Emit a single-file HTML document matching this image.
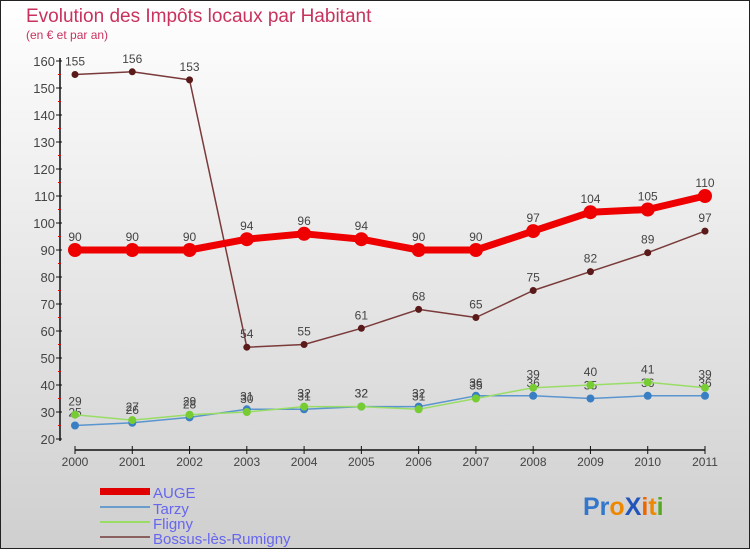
<!DOCTYPE html>
<html><head><meta charset="utf-8"><style>
html,body{margin:0;padding:0;}
body{width:750px;height:550px;overflow:hidden;font-family:"Liberation Sans",sans-serif;}
</style></head><body>
<svg id="chart" width="750" height="550" xmlns="http://www.w3.org/2000/svg" font-family="Liberation Sans, sans-serif">
<defs><linearGradient id="bg" x1="0" y1="0" x2="0" y2="1"><stop offset="0" stop-color="#ffffff"/><stop offset="1" stop-color="#cfcfcf"/></linearGradient></defs>
<rect x="0.5" y="0.5" width="749" height="548" fill="url(#bg)" stroke="#222" stroke-width="1"/>
<text x="26" y="22" font-size="19" fill="#c8325e">Evolution des Impôts locaux par Habitant</text>
<text x="26" y="39" font-size="12" fill="#c8325e">(en € et par an)</text>
<g id="axes"></g>
<g id="series"></g>
<g id="legend">
<rect x="100" y="488" width="50" height="7" fill="#e00000"/>
<text x="153" y="498" font-size="15" fill="#6666ee">AUGE</text>
<rect x="100" y="506" width="50" height="2" fill="#6a9ccc"/>
<text x="153" y="514" font-size="15" fill="#6666ee">Tarzy</text>
<rect x="100" y="521" width="50" height="2" fill="#99dd66"/>
<text x="153" y="529" font-size="15" fill="#6666ee">Fligny</text>
<rect x="100" y="536" width="50" height="2" fill="#8b6060"/>
<text x="153" y="544" font-size="15" fill="#6666ee">Bossus-lès-Rumigny</text>
</g>
<text x="583" y="515" font-size="25" font-weight="bold"><tspan fill="#3377cc">Pr</tspan><tspan fill="#ee8800">o</tspan><tspan fill="#2255bb">X</tspan><tspan fill="#ee6600">i</tspan><tspan fill="#ee8800">t</tspan><tspan fill="#55aa22">i</tspan></text>
</svg>
<script>
const years=[2000,2001,2002,2003,2004,2005,2006,2007,2008,2009,2010,2011];
const yTicks=[20,30,40,50,60,70,80,90,100,110,120,130,140,150,160];
const auge=[90,90,90,94,96,94,90,90,97,104,105,110];
const tarzy=[25,26,28,31,31,32,32,36,36,35,36,36];
const fligny=[29,27,29,30,32,32,31,35,39,40,41,39];
const bossus=[155,156,153,54,55,61,68,65,75,82,89,97];
const NS="http://www.w3.org/2000/svg";
const x=i=>75+i*(630/11);
const y=v=>439-(v-20)*(378/140);
function mk(t,a,p){const e=document.createElementNS(NS,t);for(const k in a)e.setAttribute(k,a[k]);p.appendChild(e);return e;}
const ax=document.getElementById('axes');
let l=mk('line',{x1:60,y1:58,x2:60,y2:441,stroke:'#111','stroke-width':1.5},ax);


l=mk('line',{x1:75,y1:450,x2:705,y2:450,stroke:'#111','stroke-width':1.5},ax);


yTicks.forEach((v,i)=>{
 const t=mk('line',{x1:56,y1:y(v),x2:62,y2:y(v),stroke:'#111'},ax);
 
 
 if(i<yTicks.length-1){const m=mk('line',{x1:58,y1:y(v+5),x2:61,y2:y(v+5),stroke:'#e00'},ax);
 
 }
 const tx=mk('text',{x:55,y:y(v)+5,'font-size':13,fill:'#444','text-anchor':'end'},ax);
 tx.textContent=v;
 
 
});
years.forEach((yr,i)=>{
 const t=mk('line',{x1:x(i),y1:446,x2:x(i),y2:454,stroke:'#111'},ax);
 
 
 const tx=mk('text',{x:x(i),y:466,'font-size':12,fill:'#444','text-anchor':'middle'},ax);
 tx.textContent=yr;
 
 
});
const sg=document.getElementById('series');
function series(name,data,color,w,r,dot,lblColor){
 const g=mk('g',{},sg);
 
 
 const p=mk('polyline',{points:data.map((v,i)=>x(i)+','+y(v)).join(' '),fill:'none',stroke:color,'stroke-width':w,'stroke-linejoin':'round'},g);
 
 
 data.forEach((v,i)=>{
  const c=mk('circle',{cx:x(i),cy:y(v),r:r,fill:dot},g);
  
  
  const t=mk('text',{x:x(i),y:y(v)-9,'font-size':12,fill:lblColor,'text-anchor':'middle'},g);
  t.textContent=v;
  
  
 });
}
series('bossus',bossus,'#7a3a3a',1.5,3.5,'#5a1a1a','#444');
series('tarzy',tarzy,'#5b95cf',1.5,4,'#3a7fc4','#444');
series('fligny',fligny,'#99dd66',1.5,4,'#77cc33','#444');
series('auge',auge,'#ee0000',7,7,'#ee0000','#444');
</script>
</body></html>
